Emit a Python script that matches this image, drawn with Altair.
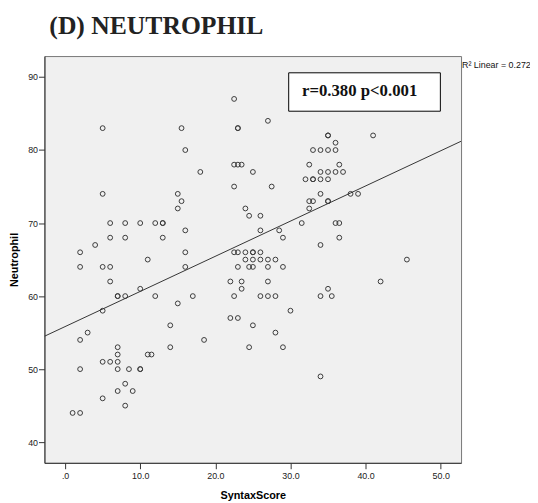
import altair as alt
import pandas as pd

# ---- data ----
syntax_score = [
    22.5,
    27,
    5, 15.5, 23, 23,
    35, 35, 41,
    36,
    16, 33, 34, 35, 36,
    22.5, 23, 23.5, 32.5, 36.5,
    18, 25, 34, 35, 36, 37,
    32, 33, 33, 34, 35,
    22.5, 27.5,
    5, 15, 34, 38, 39,
    15.5, 32.5, 33, 35, 35,
    15, 24, 32.5,
    24.5, 26,
    6, 8, 10, 12, 13, 13, 31.5, 36, 36.5,
    16, 26, 28.5,
    6, 8, 13, 29, 36.5,
    4, 34,
    2, 16, 22.5, 23, 24, 25, 25, 26,
    11, 24, 25, 26, 27, 28, 45.5,
    2, 5, 6, 16, 23, 24.5, 25, 27, 29,
    6, 22, 23.5, 27, 42,
    10, 23.5, 35,
    7, 7, 8, 12, 17, 22.5, 26, 27, 28, 34, 35.5,
    15,
    5, 30,
    22, 23,
    14, 25,
    3, 28,
    2, 18.5,
    7, 14, 24.5, 29,
    7, 11, 11.5,
    5, 6, 7,
    2, 7, 8.5, 10, 10,
    34,
    8,
    7, 9,
    5,
    8,
    1, 2,
]
neutrophil = [
    87,
    84,
    83, 83, 83, 83,
    82, 82, 82,
    81,
    80, 80, 80, 80, 80,
    78, 78, 78, 78, 78,
    77, 77, 77, 77, 77, 77,
    76, 76, 76, 76, 76,
    75, 75,
    74, 74, 74, 74, 74,
    73, 73, 73, 73, 73,
    72, 72, 72,
    71, 71,
    70, 70, 70, 70, 70, 70, 70, 70, 70,
    69, 69, 69,
    68, 68, 68, 68, 68,
    67, 67,
    66, 66, 66, 66, 66, 66, 66, 66,
    65, 65, 65, 65, 65, 65, 65,
    64, 64, 64, 64, 64, 64, 64, 64, 64,
    62, 62, 62, 62, 62,
    61, 61, 61,
    60, 60, 60, 60, 60, 60, 60, 60, 60, 60, 60,
    59,
    58, 58,
    57, 57,
    56, 56,
    55, 55,
    54, 54,
    53, 53, 53, 53,
    52, 52, 52,
    51, 51, 51,
    50, 50, 50, 50, 50,
    49,
    48,
    47, 47,
    46,
    45,
    44, 44,
]

fit_x = [-2.75, 52.71]
fit_y = [54.5, 81.2]

x_ticks = [0, 10, 20, 30, 40, 50]
y_ticks = [40, 50, 60, 70, 80, 90]

chart_title = "(D) NEUTROPHIL"
x_title = "SyntaxScore"
y_title = "Neutrophil"
annot_r = ["r=0.380 p<0.001"]
annot_r2 = ["R² Linear = 0.272"]

# ---- chart ----
W, H = 423, 413
xs = alt.Scale(domain=[-2.75, 52.71], nice=False, zero=False)
ys = alt.Scale(domain=[37.17, 92.87], nice=False, zero=False)

df = pd.DataFrame({"SyntaxScore": syntax_score, "Neutrophil": neutrophil})
fit_df = pd.DataFrame({"SyntaxScore": fit_x, "Neutrophil": fit_y})

x_axis = alt.Axis(
    values=x_ticks,
    title=x_title,
    labelExpr="datum.value == 0 ? '.0' : format(datum.value, '.1f')",
    labelPadding=3,
    titlePadding=9,
)
y_axis = alt.Axis(values=y_ticks, title=y_title, format="d", labelPadding=1, titlePadding=8)

points = alt.Chart(df).mark_point(
    shape="circle", filled=False, size=24, color="#3a3a3a", strokeWidth=1, opacity=1
).encode(
    x=alt.X("SyntaxScore:Q", scale=xs, axis=x_axis),
    y=alt.Y("Neutrophil:Q", scale=ys, axis=y_axis),
)

fit = alt.Chart(fit_df).mark_line(color="#333333", strokeWidth=1, clip=True).encode(
    x=alt.X("SyntaxScore:Q", scale=xs),
    y=alt.Y("Neutrophil:Q", scale=ys),
)

box_df = pd.DataFrame({"t": annot_r})
box = alt.Chart(box_df).mark_rect(fill="white", stroke="black", strokeWidth=1).encode(
    x=alt.value(248), x2=alt.value(402), y=alt.value(17), y2=alt.value(56)
)
box_text = alt.Chart(box_df).mark_text(
    font="Liberation Serif", fontSize=17, fontWeight="bold", color="#111111",
    align="center", baseline="middle"
).encode(x=alt.value(320), y=alt.value(36), text="t:N")

r2_text = alt.Chart(pd.DataFrame({"t": annot_r2})).mark_text(
    font="Liberation Sans", fontSize=9, color="#111111", align="left", baseline="middle",
    clip=False
).encode(x=alt.value(424), y=alt.value(9), text="t:N")

chart = alt.layer(points, fit, box, box_text, r2_text).properties(
    width=W,
    height=H,
    padding={"left": 37, "top": 45, "right": 70, "bottom": 37},
    autosize=alt.AutoSizeParams(type="none"),
    title=alt.TitleParams(
        text=chart_title,
        anchor="start",
        frame="group",
        font="Liberation Serif",
        fontSize=26,
        fontWeight="bold",
        color="#222222",
        dx=5,
        offset=17,
    ),
).configure_view(
    fill="#F0F0F0", stroke="#777777", strokeWidth=1
).configure_axis(
    grid=False,
    domainColor="#333333",
    tickColor="#333333",
    tickSize=6,
    labelFont="Liberation Sans",
    labelFontSize=9,
    labelColor="#222222",
    titleFont="Liberation Sans",
    titleFontSize=11,
    titleFontWeight="bold",
    titleColor="#000000",
)

chart.save("out.html", embed_options={"renderer": "svg", "actions": False})
